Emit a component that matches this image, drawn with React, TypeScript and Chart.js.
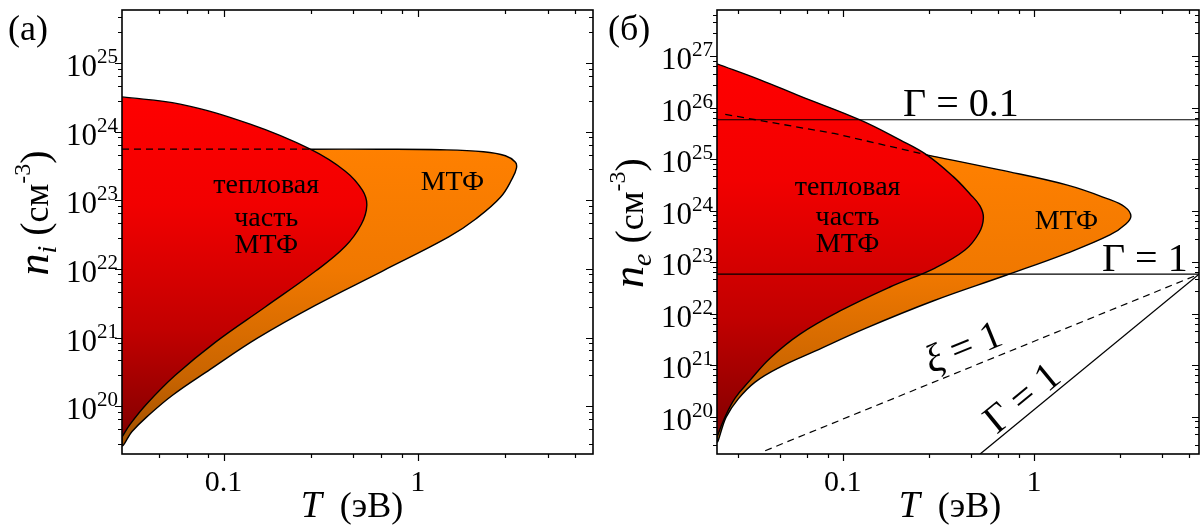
import React, { useEffect, useRef } from 'react';
import { Chart, registerables } from 'chart.js';

Chart.register(...registerables);

type P = [number, number];

// ---------- Panel (a): ion density ----------
const A_X_RANGE: P = [0.03, 8];
const A_Y_RANGE: P = [2e19, 6e25];
const A_THERMAL: P[] = [
  [0.03, 3.24e24], [0.0598, 2.54e24], [0.1373, 1.295e24], [0.2798, 5.59e23], [0.424, 2.67e23],
  [0.519, 1.41e23], [0.5471, 8.51e22], [0.5127, 4.49e22], [0.424, 2.14e22], [0.297, 9.25e21],
  [0.164, 2.79e21], [0.0906, 8.51e20], [0.0564, 2.81e20], [0.0404, 1.09e20], [0.033, 5.41e19],
  [0.03, 3.53e19],
];
const A_MTF: P[] = [
  [0.2798, 5.59e23], [0.6421, 5.59e23], [1.309, 5.5e23], [2.182, 5.14e23], [2.831, 4.49e23],
  [3.189, 3.61e23], [3.227, 2.95e23], [3.077, 2.11e23], [2.669, 1.11e23], [1.983, 5.32e22],
  [1.445, 2.93e22], [0.6555, 9.25e21], [0.297, 2.95e21], [0.1487, 9.73e20], [0.0854, 3.43e20],
  [0.0544, 1.43e20], [0.04, 6.84e19], [0.0338, 4.27e19], [0.03, 2.76e19], [0.03, 5.59e23],
];
const A_DASH: P[] = [[0.03, 5.59e23], [0.2798, 5.59e23]];
const A_Y_DECADES = [20, 21, 22, 23, 24, 25];

// ---------- Panel (b): electron density ----------
const B_X_RANGE: P = [0.022, 7.3];
const B_Y_RANGE: P = [1.9e19, 8e27];
const B_THERMAL: P[] = [
  [0.022, 7.21e26], [0.037, 3.52e26], [0.0598, 1.7e26], [0.1231, 5.87e25], [0.1993, 2.4e25],
  [0.275, 1.23e25], [0.3785, 4.64e24], [0.463, 2.14e24], [0.522, 1.25e24], [0.544, 7.3e23],
  [0.516, 3.73e23], [0.436, 1.74e23], [0.304, 7.79e22], [0.1767, 3.33e22], [0.0968, 1.14e22],
  [0.0598, 4.05e21], [0.0417, 1.38e21], [0.0328, 5.17e20], [0.02735, 2.31e20], [0.02395, 9.02e19],
  [0.022, 4.03e19],
];
const B_MTF: P[] = [
  [0.275, 1.23e25], [0.6642, 6.26e24], [1.482, 3.2e24], [2.437, 1.71e24], [2.99, 1.195e24],
  [3.214, 7.99e23], [3.027, 5.58e23], [2.496, 3.41e23], [1.482, 1.5e23], [0.72, 5.69e22],
  [0.2965, 1.78e22], [0.1324, 5.3e21], [0.0716, 1.89e21], [0.047, 9.25e20], [0.0348, 4.73e20],
  [0.02836, 2.21e20], [0.02455, 9.87e19], [0.022, 3.52e19], [0.022, 1.23e25],
];
const B_DASH: P[] = [[0.0243, 7.5e25], [0.09, 3.2e25], [0.275, 1.23e25]];
const B_GAMMA_01: P[] = [[0.022, 5.9e25], [7.3, 5.9e25]];
const B_GAMMA_1: P[] = [[0.022, 5.9e22], [7.3, 5.9e22]];
const B_XI_1: P[] = [[0.0393, 2.2e19], [7.3, 5.9e22]];
const B_GAMMA_1_DIAG: P[] = [[0.523, 1.9e19], [7.3, 5.9e22]];
const B_Y_DECADES = [20, 21, 22, 23, 24, 25, 26, 27];

const X_TICK_LABELS: { v: number; t: string }[] = [{ v: 0.1, t: '0.1' }, { v: 1, t: '1' }];
const MINOR_MULTS = [2.83, 4.67, 6.5, 8.33];

const RED_STOPS: [number, string][] = [[0, '#ff0000'], [0.3, '#f20000'], [0.65, '#c20000'], [1, '#780000']];
const ORANGE_STOPS: [number, string][] = [[0, '#ff8000'], [0.4, '#f07800'], [0.75, '#c86400'], [1, '#9a4d00']];

const FONT = '"Liberation Serif", "DejaVu Serif", serif';

type Run = { t: string; size: number; italic?: boolean; dy?: number };

function font(r: Run) {
  return `${r.italic ? 'italic ' : ''}${r.size}px ${FONT}`;
}
function runsWidth(ctx: CanvasRenderingContext2D, runs: Run[]) {
  let w = 0;
  for (const r of runs) { ctx.font = font(r); w += ctx.measureText(r.t).width; }
  return w;
}
function drawRuns(ctx: CanvasRenderingContext2D, runs: Run[], x: number, y: number, align: 'left' | 'center' | 'right') {
  const w = runsWidth(ctx, runs);
  let cx = align === 'center' ? x - w / 2 : align === 'right' ? x - w : x;
  ctx.textAlign = 'left';
  ctx.textBaseline = 'alphabetic';
  for (const r of runs) {
    ctx.font = font(r);
    ctx.fillText(r.t, cx, y + (r.dy || 0));
    cx += ctx.measureText(r.t).width;
  }
}

function logTicks(min: number, max: number, mults: number[]) {
  const out: number[] = [];
  for (let d = Math.floor(Math.log10(min)) - 1; d <= Math.ceil(Math.log10(max)); d++) {
    for (const m of mults) {
      const v = m * Math.pow(10, d);
      if (v >= min * 1.001 && v <= max * 0.999) out.push(v);
    }
  }
  return out;
}

type Label = { runs: Run[]; T: number; n: number; angleFrom?: P[] };

interface Spec {
  id: string;
  xRange: P; yRange: P; yDecades: number[];
  pad: { left: number; right: number; top: number; bottom: number };
  left: number;
  panelLabel: string;
  ySub: string;
  yTitle: { x: number; y: number };
  xTitleX: number;
  datasets: any[];
  labels: Label[];
}

function grad(stops: [number, string][], topVal: number) {
  return (c: any) => {
    const chart = c.chart;
    const area = chart.chartArea;
    if (!area || !chart.scales.y) return stops[0][1];
    const top = chart.scales.y.getPixelForValue(topVal);
    const g = chart.ctx.createLinearGradient(0, top, 0, area.bottom);
    for (const [o, col] of stops) g.addColorStop(o, col);
    return g;
  };
}

const toXY = (pts: P[]) => pts.map(([x, y]) => ({ x, y }));

function lineDs(pts: P[], extra: any = {}) {
  return {
    data: toXY(pts),
    borderColor: '#000',
    borderWidth: 1.3,
    pointRadius: 0,
    fill: false,
    tension: 0,
    order: 0,
    ...extra,
  };
}

function regionDs(pts: P[], stops: [number, string][], topVal: number, order: number) {
  return {
    data: toXY(pts),
    borderColor: '#000',
    borderWidth: 1.4,
    pointRadius: 0,
    fill: 'shape',
    backgroundColor: grad(stops, topVal),
    tension: 0.4,
    order,
  };
}

const textLabel = (t: string, T: number, n: number): Label => ({ runs: [{ t, size: 28 }], T, n });
const mathLabel = (runs: Run[], T: number, n: number, angleFrom?: P[]): Label => ({ runs, T, n, angleFrom });

const SPEC_A: Spec = {
  id: 'a',
  xRange: A_X_RANGE, yRange: A_Y_RANGE, yDecades: A_Y_DECADES,
  pad: { left: 122, right: 7, top: 10, bottom: 77 },
  left: 0,
  panelLabel: '(a)',
  ySub: 'i',
  yTitle: { x: 48, y: 213 },
  xTitleX: 352,
  datasets: [
    lineDs(A_DASH, { borderDash: [7, 5] }),
    regionDs(A_THERMAL, RED_STOPS, 3.2e24, 1),
    regionDs(A_MTF, ORANGE_STOPS, 5.6e23, 2),
  ],
  labels: [
    textLabel('тепловая', 0.166, 1.78e23),
    textLabel('часть', 0.166, 5.8e22),
    textLabel('МТФ', 0.166, 2.37e22),
    textLabel('МТФ', 1.51, 1.95e23),
  ],
};

const SPEC_B: Spec = {
  id: 'b',
  xRange: B_X_RANGE, yRange: B_Y_RANGE, yDecades: B_Y_DECADES,
  pad: { left: 117, right: 1, top: 10, bottom: 77 },
  left: 600,
  panelLabel: '(б)',
  ySub: 'e',
  yTitle: { x: 643, y: 223 },
  xTitleX: 950,
  datasets: [
    lineDs(B_DASH, { borderDash: [7, 5] }),
    lineDs(B_GAMMA_01, { borderWidth: 1.1 }),
    lineDs(B_GAMMA_1, { borderWidth: 1.3 }),
    lineDs(B_XI_1, { borderDash: [7, 5], borderWidth: 1.2 }),
    lineDs(B_GAMMA_1_DIAG, { borderWidth: 1.3 }),
    regionDs(B_THERMAL, RED_STOPS, 7.2e26, 1),
    regionDs(B_MTF, ORANGE_STOPS, 1.23e25, 2),
  ],
  labels: [
    textLabel('тепловая', 0.106, 3.1e24),
    textLabel('часть', 0.106, 7.9e23),
    textLabel('МТФ', 0.106, 2.4e23),
    textLabel('МТФ', 1.48, 6.6e23),
    mathLabel([{ t: 'Γ = 0.1', size: 40 }], 0.415, 1.25e26),
    mathLabel([{ t: 'Γ = 1', size: 40 }], 3.8, 1.23e23),
    mathLabel([{ t: 'ξ', size: 40, italic: true }, { t: ' = 1', size: 40 }], 0.425, 2.3e21, B_XI_1),
    mathLabel([{ t: 'Γ = 1', size: 40 }], 0.86, 2.4e20, B_GAMMA_1_DIAG),
  ],
};

function makePlugin(spec: Spec) {
  return {
    id: 'deco_' + spec.id,
    afterDatasetsDraw(chart: any) {
      const { ctx, chartArea: a } = chart;
      const xs = chart.scales.x, ys = chart.scales.y;
      ctx.save();
      ctx.strokeStyle = '#000';
      ctx.fillStyle = '#000';
      for (const lb of spec.labels) {
        const px = xs.getPixelForValue(lb.T), py = ys.getPixelForValue(lb.n);
        ctx.save();
        ctx.translate(px, py);
        if (lb.angleFrom) {
          const [p0, p1] = lb.angleFrom;
          const ang = Math.atan2(ys.getPixelForValue(p1[1]) - ys.getPixelForValue(p0[1]), xs.getPixelForValue(p1[0]) - xs.getPixelForValue(p0[0]));
          ctx.rotate(ang);
        }
        drawRuns(ctx, lb.runs, 0, lb.runs[0].size * 0.33, 'center');
        ctx.restore();
      }
      ctx.lineWidth = 1.6;
      ctx.strokeRect(a.left, a.top, a.right - a.left, a.bottom - a.top);
      ctx.lineWidth = 1.2;
      const majX = logTicks(spec.xRange[0], spec.xRange[1], [1]);
      const minX = logTicks(spec.xRange[0], spec.xRange[1], MINOR_MULTS);
      const majY = spec.yDecades.map((d) => Math.pow(10, d));
      const minY = logTicks(spec.yRange[0], spec.yRange[1], MINOR_MULTS);
      ctx.beginPath();
      const xt = (v: number, len: number) => {
        const p = Math.round(xs.getPixelForValue(v)) + 0.5;
        ctx.moveTo(p, a.bottom); ctx.lineTo(p, a.bottom + len);
        ctx.moveTo(p, a.top); ctx.lineTo(p, a.top + len);
      };
      const yt = (v: number, len: number) => {
        const p = Math.round(ys.getPixelForValue(v)) + 0.5;
        ctx.moveTo(a.left, p); ctx.lineTo(a.left - len, p);
        ctx.moveTo(a.right, p); ctx.lineTo(a.right - len, p);
      };
      majX.forEach((v) => xt(v, 7));
      minX.forEach((v) => xt(v, 4));
      majY.forEach((v) => yt(v, 7));
      minY.forEach((v) => yt(v, 4));
      ctx.stroke();
      for (const d of spec.yDecades) {
        const p = ys.getPixelForValue(Math.pow(10, d));
        drawRuns(ctx, [{ t: '10', size: 31 }, { t: String(d), size: 21, dy: -13 }], a.left - 4, p + 13, 'right');
      }
      for (const xl of X_TICK_LABELS) {
        const p = xs.getPixelForValue(xl.v);
        drawRuns(ctx, [{ t: xl.t, size: 30 }], p, a.bottom + 37, 'center');
      }
      drawRuns(ctx, [{ t: 'T', size: 38, italic: true }, { t: '  (эВ)', size: 36 }], spec.xTitleX - spec.left, 517, 'center');
      ctx.save();
      ctx.translate(spec.yTitle.x - spec.left, spec.yTitle.y);
      ctx.rotate(-Math.PI / 2);
      drawRuns(ctx, [
        { t: 'n', size: 44, italic: true },
        { t: spec.ySub, size: 28, italic: true, dy: 8 },
        { t: ' (', size: 40 },
        { t: 'см', size: 36 },
        { t: '-3', size: 24, dy: -18 },
        { t: ')', size: 40 },
      ], 0, 0, 'center');
      ctx.restore();
      drawRuns(ctx, [{ t: spec.panelLabel, size: 36 }], 8, 40, 'left');
      ctx.restore();
    },
  };
}

function Panel({ spec }: { spec: Spec }) {
  const ref = useRef<HTMLCanvasElement | null>(null);
  useEffect(() => {
    if (!ref.current) return;
    const chart = new Chart(ref.current, {
      type: 'line',
      data: { datasets: spec.datasets },
      options: {
        animation: false,
        responsive: false,
        devicePixelRatio: 1,
        layout: { padding: spec.pad },
        plugins: { legend: { display: false }, tooltip: { enabled: false } },
        events: [],
        scales: {
          x: { type: 'logarithmic', min: spec.xRange[0], max: spec.xRange[1], display: false },
          y: { type: 'logarithmic', min: spec.yRange[0], max: spec.yRange[1], display: false },
        },
      } as any,
      plugins: [makePlugin(spec)],
    });
    return () => chart.destroy();
  }, [spec]);
  return (
    <canvas
      ref={ref}
      width={600}
      height={531}
      style={{ position: 'absolute', left: spec.left, top: 0, width: 600, height: 531 }}
    />
  );
}

export default function App() {
  return (
    <div style={{ position: 'absolute', left: 0, top: 0, width: 1200, height: 531, background: '#fff' }}>
      <Panel spec={SPEC_A} />
      <Panel spec={SPEC_B} />
    </div>
  );
}
